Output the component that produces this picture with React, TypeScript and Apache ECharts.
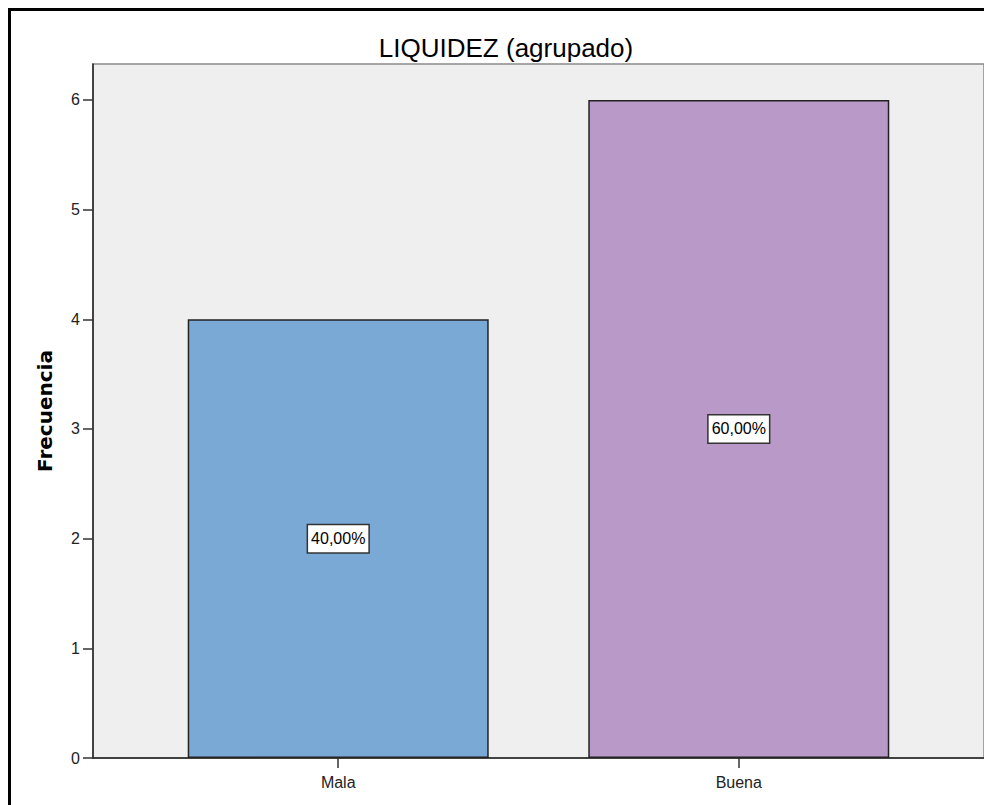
import React, { useEffect, useRef } from "react";
import * as echarts from "echarts";

const categories = ["Mala", "Buena"];
const frequencies = [4, 6];
const percentLabels = ["40,00%", "60,00%"];
const barColors = ["#7BA9D6", "#B899C8"];
const yTicks = [0, 1, 2, 3, 4, 5, 6];
const titleText = "LIQUIDEZ (agrupado)";
const yAxisTitle = "Frecuencia";

export default function App() {
  const ref = useRef<HTMLDivElement>(null);
  useEffect(() => {
    if (!ref.current) return;
    const chart = echarts.init(ref.current, undefined, { renderer: "svg" });
    const font = "'Liberation Sans', Arial, sans-serif";
    chart.setOption({
      animation: false,
      backgroundColor: "#ffffff",
      title: {
        text: titleText,
        left: 501,
        textAlign: "center",
        top: 30,
        textStyle: { fontFamily: font, fontSize: 26, fontWeight: "normal", color: "#000" },
      },
      graphic: [
        {
          type: "rect",
          shape: { x: 9.5, y: 9.5, width: 1000, height: 1000 },
          style: { fill: "none", stroke: "#000", lineWidth: 3 },
          silent: true,
        },
      ],
      grid: {
        left: 93,
        top: 64,
        width: 892,
        height: 694,
        show: true,
        backgroundColor: "#EFEFEF",
        borderColor: "#8a8a8a",
        borderWidth: 1.5,
      },
      xAxis: {
        type: "value",
        min: -0.6122,
        max: 1.6122,
        splitLine: { show: false },
        axisLine: { show: true, onZero: false, lineStyle: { color: "#222", width: 1.5 } },
        axisTick: { show: true, length: 10, customValues: [0, 1], lineStyle: { color: "#333", width: 1.5 } },
        axisLabel: {
          customValues: [0, 1],
          formatter: (v: number) => categories[Math.round(v)] ?? "",
          fontFamily: font,
          fontSize: 16,
          color: "#222",
          margin: 16,
        },
      },
      yAxis: {
        type: "value",
        min: 0,
        max: 6.328,
        splitLine: { show: false },
        axisLine: { show: true, onZero: false, lineStyle: { color: "#222", width: 1.5 } },
        axisTick: { show: true, length: 10, customValues: yTicks, lineStyle: { color: "#333", width: 1.5 } },
        axisLabel: {
          customValues: yTicks,
          fontFamily: font,
          fontSize: 16,
          color: "#222",
          margin: 13,
        },
        name: yAxisTitle,
        nameLocation: "middle",
        nameRotate: 90,
        nameGap: 38,
        nameTextStyle: { fontFamily: "'DejaVu Sans', sans-serif", fontSize: 20, fontWeight: "bold", color: "#000" },
      },
      series: [
        {
          type: "bar",
          barWidth: 301,
          data: frequencies.map((f, i) => ({
            value: [i, f],
            itemStyle: { color: barColors[i], borderColor: "#222", borderWidth: 1.5 },
          })),
          label: {
            show: true,
            position: "inside",
            formatter: (p: any) => percentLabels[p.dataIndex],
            fontFamily: font,
            fontSize: 16,
            color: "#000",
            backgroundColor: "#ffffff",
            borderColor: "#333",
            borderWidth: 1.5,
            padding: [6, 3, 5, 3],
          },
        },
      ],
    });
    return () => chart.dispose();
  }, []);
  return (
    <div
      ref={ref}
      style={{ position: "absolute", left: 0, top: 0, width: 984, height: 805 }}
    />
  );
}
